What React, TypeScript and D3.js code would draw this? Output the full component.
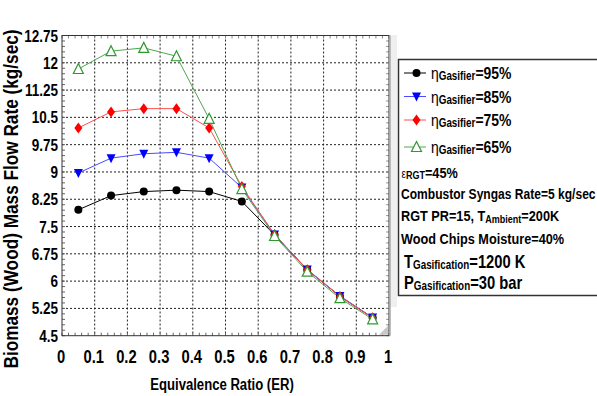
import React from "react";
import * as d3 from "d3";

const erValues = [0.05, 0.15, 0.25, 0.35, 0.45, 0.55, 0.65, 0.75, 0.85, 0.95];
const eta95 = [7.96, 8.35, 8.46, 8.5, 8.46, 8.19, 7.27, 6.31, 5.58, 4.99];
const eta85 = [8.97, 9.38, 9.5, 9.54, 9.38, 8.57, 7.28, 6.32, 5.59, 5.0];
const eta75 = [10.21, 10.65, 10.74, 10.74, 10.21, 8.6, 7.28, 6.31, 5.58, 4.99];
const eta65 = [11.83, 12.32, 12.41, 12.18, 10.46, 8.53, 7.24, 6.26, 5.53, 4.95];
const xTicks = [0, 0.1, 0.2, 0.3, 0.4, 0.5, 0.6, 0.7, 0.8, 0.9, 1];
const yTicks = [4.5, 5.25, 6, 6.75, 7.5, 8.25, 9, 9.75, 10.5, 11.25, 12, 12.75];
const seriesLabels = ["95%", "85%", "75%", "65%"];

const W = 597;
const H = 396;
const L = 62, R = 389, T = 35.5, B = 335.7;
const SANS = "'Liberation Sans', Arial, sans-serif";
const SX = 0.82;

type Style = { line: string; fill: string; stroke: string; shape: string };
const styles: Style[] = [
  { line: "#000000", fill: "#000000", stroke: "#000000", shape: "circle" },
  { line: "#4a4aff", fill: "#0000ff", stroke: "#0000ff", shape: "down" },
  { line: "#ff5050", fill: "#ff0000", stroke: "#ff0000", shape: "diamond" },
  { line: "#4fa64f", fill: "#ffffff", stroke: "#2e9a2e", shape: "up" },
];

function Marker({ x, y, s }: { x: number; y: number; s: Style }) {
  if (s.shape === "circle") return <circle cx={x} cy={y} r={4} fill={s.fill} />;
  if (s.shape === "down")
    return <path d={`M${x - 4.5},${y - 4} L${x + 4.5},${y - 4} L${x},${y + 5} Z`} fill={s.fill} />;
  if (s.shape === "diamond")
    return <path d={`M${x},${y - 5.5} L${x + 4},${y} L${x},${y + 5.5} L${x - 4},${y} Z`} fill={s.fill} />;
  return (
    <path
      d={`M${x},${y - 5.5} L${x + 5},${y + 4.5} L${x - 5},${y + 4.5} Z`}
      fill={s.fill}
      stroke={s.stroke}
      strokeWidth={1.2}
    />
  );
}

function NT({
  x,
  y,
  size,
  anchor,
  children,
}: {
  x: number;
  y: number;
  size: number;
  anchor?: string;
  children: React.ReactNode;
}) {
  return (
    <text
      transform={`translate(${x},${y}) scale(${SX},1)`}
      textAnchor={anchor || "start"}
      fontFamily={SANS}
      fontWeight="bold"
      fontSize={size}
      fill="#000"
    >
      {children}
    </text>
  );
}

export default function App() {
  const x = d3.scaleLinear().domain([0, 1]).range([L, R]);
  const y = d3.scaleLinear().domain([4.5, 12.75]).range([B, T]);
  const all = [eta95, eta85, eta75, eta65];
  const line = d3
    .line<number>()
    .x((_, i) => x(erValues[i]))
    .y((d) => y(d));

  const minorY = d3.range(4.5, 12.76, 0.15);
  const minorX = d3.range(0, 1.0001, 0.02);

  const legRows = [73, 96.5, 120, 147];

  return (
    <svg
      width={W}
      height={H}
      style={{ position: "absolute", left: 0, top: 0, background: "#fff" }}
    >
      <rect x={0} y={0} width={W} height={H} fill="#fff" />
      <rect x={390} y={35} width={7} height={272} fill="#efefef" />
      {xTicks.slice(1, -1).map((t) => (
        <line key={"gx" + t} x1={x(t)} x2={x(t)} y1={T} y2={B} stroke="#222" strokeWidth={1} strokeDasharray="2,2" />
      ))}
      {yTicks.slice(1, -1).map((t) => (
        <line key={"gy" + t} x1={L} x2={R} y1={y(t)} y2={y(t)} stroke="#222" strokeWidth={1} strokeDasharray="2,2" />
      ))}
      {minorY.map((t, i) => (
        <g key={"my" + i}>
          <line x1={L} x2={L + 3} y1={y(t)} y2={y(t)} stroke="#666" strokeWidth={1} />
          <line x1={R - 3} x2={R} y1={y(t)} y2={y(t)} stroke="#999" strokeWidth={1} />
        </g>
      ))}
      {minorX.map((t, i) => (
        <g key={"mx" + i}>
          <line x1={x(t)} x2={x(t)} y1={T} y2={T + 3} stroke="#888" strokeWidth={1} />
          <line x1={x(t)} x2={x(t)} y1={B - 3} y2={B} stroke="#666" strokeWidth={1} />
        </g>
      ))}
      <rect x={L} y={T} width={R - L} height={B - T} fill="none" stroke="#333" strokeWidth={1} />
      <line x1={R + 1} x2={R + 1} y1={T} y2={B} stroke="#aaa" strokeWidth={1.5} />
      <path d={`M${R - 1},${B - 10} L${R - 1},${B - 1} L${R - 10},${B - 1} Z`} fill="#c8c8c8" />

      {all.map((vals, si) => (
        <path key={"l" + si} d={line(vals) || ""} fill="none" stroke={styles[si].line} strokeWidth={1} />
      ))}
      {all.map((vals, si) => (
        <g key={"m" + si}>
          {vals.map((v, i) => (
            <Marker key={i} x={x(erValues[i])} y={y(v)} s={styles[si]} />
          ))}
        </g>
      ))}

      {yTicks.map((t) => (
        <NT key={"yt" + t} x={58} y={y(t) + 6} size={16.5} anchor="end">
          {String(t)}
        </NT>
      ))}
      {xTicks.map((t) => (
        <NT key={"xt" + t} x={x(t) - 1} y={363} size={18} anchor="middle">
          {String(t)}
        </NT>
      ))}
      <NT x={222} y={389.5} size={16} anchor="middle">
        Equivalence Ratio (ER)
      </NT>
      <text
        transform={`translate(17.5,199) rotate(-90) scale(${SX},1)`}
        textAnchor="middle"
        fontFamily={SANS}
        fontWeight="bold"
        fontSize={21}
        fill="#000"
      >
        Biomass (Wood) Mass Flow Rate (kg/sec)
      </text>

      <rect x={398.5} y={59.5} width={210} height={236} fill="#fff" stroke="#333" strokeWidth={1.5} />
      {seriesLabels.map((lab, i) => {
        const cy = legRows[i];
        const s = styles[i];
        return (
          <g key={"lg" + i}>
            <line x1={404} x2={426} y1={cy} y2={cy} stroke={s.line} strokeWidth={1} />
            <Marker x={416.5} y={cy} s={s} />
            <NT x={431} y={cy + 6} size={17}>
              <tspan fontWeight="normal" fontSize={17}>η</tspan>
              <tspan fontSize={12} dy={1}>Gasifier</tspan>
              <tspan dy={-1}>{"=" + lab}</tspan>
            </NT>
          </g>
        );
      })}
      <NT x={401.5} y={178} size={15.5}>
        <tspan fontWeight="normal" fontSize={12}>ε</tspan>
        <tspan fontSize={11} dy={1}>RGT</tspan>
        <tspan dy={-1}>=45%</tspan>
      </NT>
      <NT x={401} y={198.5} size={14.7}>
        Combustor Syngas Rate=5 kg/sec
      </NT>
      <NT x={401} y={220.5} size={15.5}>
        <tspan>RGT PR=15, T</tspan>
        <tspan fontSize={11} dy={2}>Ambient</tspan>
        <tspan dy={-2}>=200K</tspan>
      </NT>
      <NT x={401} y={243.5} size={15.5}>
        Wood Chips Moisture=40%
      </NT>
      <NT x={404} y={267.5} size={18}>
        <tspan>T</tspan>
        <tspan fontSize={12} dy={1}>Gasification</tspan>
        <tspan dy={-1}>=1200 K</tspan>
      </NT>
      <NT x={404} y={289} size={18}>
        <tspan>P</tspan>
        <tspan fontSize={12} dy={1}>Gasification</tspan>
        <tspan dy={-1}>=30 bar</tspan>
      </NT>
    </svg>
  );
}
